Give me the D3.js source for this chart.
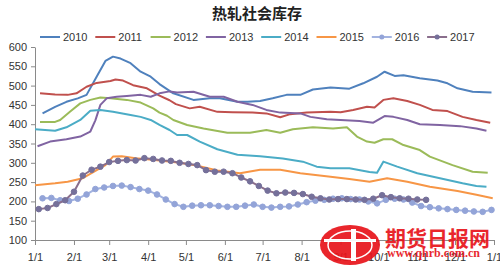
<!DOCTYPE html>
<html><head><meta charset="utf-8">
<script src="https://cdn.jsdelivr.net/npm/d3@7/dist/d3.min.js"></script>
<style>
html,body{margin:0;padding:0;background:#fff;}
svg{display:block;font-family:"Liberation Sans",Arial,sans-serif;}
</style></head><body>
<svg id="c" width="500" height="271"></svg>
<script>
// ---- data (day-of-year, value) ----
const title = "热轧社会库存";
const seriesNames = ["2010","2011","2012","2013","2014","2015","2016","2017"];
const yTicks = [100,150,200,250,300,350,400,450,500,550,600];
const xTickDays = [0,31,59,90,120,151,181,212,243,273,304,334,365];
const xTickLabels = ["1/1","2/1","3/1","4/1","5/1","6/1","7/1","8/1","9/1","10/1","11/1","12/1","1/1"];

const s2010 = [[6,428],[16,445],[25,458],[34,467],[41,476],[49,523],[56,564],[62,575],[68,570],[76,558],[84,536],[92,523],[99,504],[110,480],[126,463],[139,467],[147,467],[161,458],[169,458],[179,460],[189,467],[200,476],[211,476],[221,490],[235,495],[250,492],[261,506],[272,523],[278,536],[286,525],[293,527],[306,519],[320,513],[328,506],[336,493],[348,484],[363,482]];
const s2011 = [[4,480],[16,477],[26,476],[33,480],[41,497],[49,507],[60,512],[64,516],[70,513],[78,501],[89,493],[99,474],[107,462],[112,452],[123,441],[131,445],[145,432],[157,431],[173,430],[184,428],[195,418],[203,426],[216,430],[235,432],[243,431],[253,437],[264,445],[270,443],[277,463],[285,467],[296,460],[306,450],[316,437],[328,434],[340,419],[351,411],[362,404]];
const s2012 = [[4,406],[16,406],[20,411],[28,433],[36,454],[44,463],[52,469],[60,467],[73,463],[84,456],[94,441],[99,430],[105,422],[110,411],[121,398],[134,389],[153,378],[171,378],[184,385],[195,378],[205,387],[221,392],[237,389],[248,392],[256,368],[264,355],[270,352],[277,361],[284,361],[293,346],[306,333],[314,316],[332,294],[348,277],[360,274]];
const s2013 = [[2,343],[12,355],[25,361],[36,368],[44,381],[48,410],[52,450],[57,467],[65,471],[73,473],[84,476],[92,471],[99,480],[107,485],[113,482],[126,484],[139,471],[150,471],[161,458],[173,450],[184,437],[195,430],[211,428],[219,419],[232,413],[243,411],[258,408],[269,404],[278,421],[285,419],[296,411],[306,400],[322,398],[338,395],[351,389],[359,383]];
const s2014 = [[0,387],[16,383],[25,392],[36,411],[44,435],[52,437],[62,432],[76,424],[84,419],[92,411],[99,398],[107,385],[113,372],[121,372],[131,355],[145,335],[161,321],[179,317],[197,311],[213,303],[224,290],[235,286],[250,286],[266,276],[272,274],[277,303],[288,290],[304,273],[322,260],[340,247],[351,240],[359,238]];
const s2015 = [[0,242],[16,247],[26,251],[38,260],[47,277],[56,294],[62,316],[69,317],[80,312],[87,310],[99,306],[115,300],[130,292],[145,280],[155,276],[163,273],[179,282],[195,282],[211,273],[235,264],[250,258],[266,251],[280,260],[296,251],[314,238],[336,227],[351,217],[364,208]];
// weekly series: first day and step of 7 days
const s2016Start = 6;
const s2016 = [208,209,203,201,207,218,232,236,240,241,237,232,228,218,205,193,186,189,190,190,188,186,186,189,192,186,184,186,187,192,198,202,204,207,208,206,205,200,195,204,207,205,197,188,185,182,180,178,176,174,173,178];
const s2017Start = 3;
const s2017 = [180,183,193,203,225,267,282,290,302,305,307,306,312,310,306,305,300,297,294,281,277,277,273,262,252,240,228,221,223,222,219,212,208,205,206,206,205,204,207,216,211,208,207,205,204];

const colors = ["#4F81BD","#C0504D","#9BBB59","#8064A2","#4BACC6","#F79646","#A3B3E0","#8A6E8C"];
const markerColors = {"2016":"#93A4D8","2017":"#75709A"};

const svg = d3.select("#c");
const x = d3.scaleLinear().domain([0,365]).range([35,494]);
const y = d3.scaleLinear().domain([100,600]).range([240,47]);

// axes
const gy = svg.append("g").attr("transform","translate(35,0)")
  .call(d3.axisLeft(y).tickValues(yTicks).tickSize(4).tickSizeOuter(0).tickPadding(4));
const gx = svg.append("g").attr("transform","translate(0,240)")
  .call(d3.axisBottom(x).tickValues(xTickDays).tickFormat((d,i)=>xTickLabels[i]).tickSize(5).tickSizeOuter(0).tickPadding(8));
[gx,gy].forEach(g=>{
  g.selectAll("path,line").attr("stroke","#8a8a8a");
  g.selectAll("text").attr("fill","#333").style("font-size","11px").style("font-family","'Liberation Sans',Arial,sans-serif");
});

const line = d3.line().x(d=>x(d[0])).y(d=>y(d[1]));
const weekly = (start, vals) => vals.map((v,i)=>[start+7*i, v]);

const data = [s2010,s2011,s2012,s2013,s2014,s2015,weekly(s2016Start,s2016),weekly(s2017Start,s2017)];

data.forEach((d,i)=>{
  svg.append("path").datum(d).attr("d",line).attr("fill","none")
    .attr("stroke",colors[i]).attr("stroke-width",2).attr("stroke-linejoin","round");
  const nm = seriesNames[i];
  if (markerColors[nm]) {
    svg.append("g").selectAll("circle").data(d).join("circle")
      .attr("cx",p=>x(p[0])).attr("cy",p=>y(p[1])).attr("r",2.8)
      .attr("fill",markerColors[nm]).attr("stroke",markerColors[nm]);
  }
});

// title
svg.append("text").attr("x",257).attr("y",19).attr("text-anchor","middle")
  .style("font-family","'Noto Sans CJK SC',sans-serif").style("font-weight","bold").style("font-size","15px")
  .attr("fill","#222").text(title);

// legend
const lg = svg.append("g");
seriesNames.forEach((nm,i)=>{
  const lx = 40 + i*55.3, ly = 37;
  lg.append("line").attr("x1",lx).attr("x2",lx+20).attr("y1",ly).attr("y2",ly)
    .attr("stroke",colors[i]).attr("stroke-width",2);
  if (markerColors[nm]) lg.append("circle").attr("cx",lx+10).attr("cy",ly).attr("r",2.5).attr("fill",markerColors[nm]);
  lg.append("text").attr("x",lx+23).attr("y",ly+4).style("font-size","11px").attr("fill","#333").text(nm);
});

// watermark
const wm = svg.append("g").attr("opacity",0.92);
wm.append("ellipse").attr("cx",350).attr("cy",245).attr("rx",30).attr("ry",20).attr("fill","#E8141B");
wm.append("ellipse").attr("cx",350).attr("cy",245).attr("rx",22).attr("ry",14).attr("fill","none").attr("stroke","#fff").attr("stroke-width",1.5);
wm.append("rect").attr("x",324).attr("y",239).attr("width",52).attr("height",3).attr("fill","#fff");
wm.append("rect").attr("x",351).attr("y",229).attr("width",5).attr("height",32).attr("fill","#fff");
wm.append("text").attr("x",385).attr("y",246).style("font-family","'Noto Sans CJK SC',sans-serif").style("font-weight","bold")
  .style("font-size","21px").attr("fill","#E8141B").text("期货日报网");
wm.append("text").attr("x",387).attr("y",257).style("font-family","'Liberation Serif',serif").style("font-weight","bold")
  .style("font-size","12px").attr("fill","#E8141B").text("www.qhrb.com.cn");
</script>
</body></html>
